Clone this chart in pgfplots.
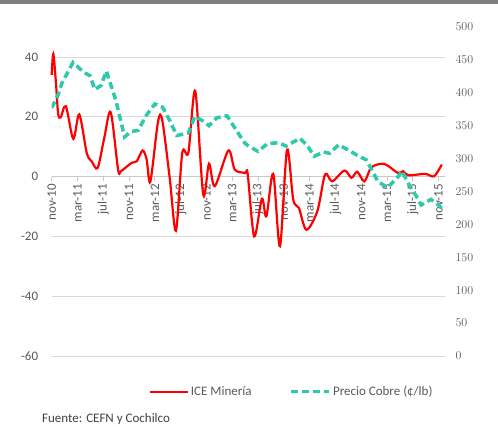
\documentclass[border=0pt]{standalone}
\usepackage{pgfplots}
\pgfplotsset{compat=1.18}
\usepackage{fontspec}
\setmainfont{Carlito}
\definecolor{icered}{RGB}{255,0,0}
\definecolor{cucyan}{RGB}{46,200,170}
\definecolor{lbl}{RGB}{89,89,89}
\definecolor{grd}{RGB}{217,217,217}
\definecolor{axl}{RGB}{200,200,200}
\definecolor{topbar}{RGB}{128,128,128}
\begin{document}
\begin{tikzpicture}[x=1pt,y=1pt]
\useasboundingbox (0,0) rectangle (498,426);
\fill[topbar] (0,422) rectangle (498,426);
\begin{axis}[
  at={(51.7pt,70pt)}, anchor=south west, scale only axis,
  width=393.3pt, height=329pt,
  xmin=0, xmax=61, ymin=-60, ymax=50,
  axis x line=middle, axis y line*=left,
  hide obscured x ticks=false, hide obscured y ticks=false,
  x axis line style={-, draw=axl, line width=0.8pt},
  y axis line style={draw=none},
  xtick={0,4,...,60},
  xticklabels={nov-10,mar-11,jul-11,nov-11,mar-12,jul-12,nov-12,mar-13,jul-13,nov-13,mar-14,jul-14,nov-14,mar-15,jul-15,nov-15},
  xticklabel style={rotate=90, anchor=east, font=\fontsize{13}{15}\selectfont, text=lbl},
  x tick style={draw=axl, line width=0.8pt},
  tick align=outside, major tick length=4pt,
  ytick={-60,-40,-20,0,20,40},
  yticklabels={-60,-40,-20,0,20,40},
  y tick style={draw=none},
  yticklabel style={font=\fontsize{13}{15}\selectfont, text=lbl, xshift=-6pt},
  ymajorgrids, grid style={draw=grd, line width=0.8pt},
  clip=false,
]
\addplot[icered, line width=2.2pt, smooth, tension=0.5] coordinates {
(0,34) (0.25,41) (0.67,31) (1.0,21) (1.4,19.8) (2.2,23.5) (3.35,12.6) (4.28,20.8)
(5.43,7.9) (6.2,5.1) (7.13,2.9) (8.16,13) (9.15,21.5) (10.3,2.3) (10.74,1.8)
(12.4,4.6) (13.18,5.1) (14.1,8.7) (14.73,5.7) (15.3,-1.7) (16.5,18.5) (17.15,18.8)
(18.3,-0.4) (19.27,-18.1) (20.25,7.9) (21.2,8) (22.26,28.6) (23.5,-6) (24.4,4.3)
(25.3,-3.2) (27.4,8.7) (28.4,2.3) (30,1.2) (30.4,0.8) (31.4,-20) (32.6,-7.4) (33.3,-13.3)
(34.36,0.9) (35.4,-23.3) (36.5,9) (37.46,-7.7) (38.34,-10.5) (39.5,-17.8) (41.2,-11.6)
(42.4,0.7) (43.5,-1.6) (45.4,2) (46.5,-0.4) (47.4,1.6) (48.5,-1.6) (49.6,3.1)
(51.6,4.2) (53.7,1.2) (54.5,1.8) (55.3,0.4) (57.9,0.9) (59.3,0.1) (60.5,4)
};
\end{axis}
\begin{axis}[
  at={(51.7pt,70pt)}, anchor=south west, scale only axis,
  width=393.3pt, height=329pt,
  xmin=0, xmax=61, ymin=0, ymax=500,
  axis x line=none, axis y line*=right,
  y axis line style={draw=none},
  ytick={0,50,...,500},
  y tick style={draw=none},
  yticklabel style={font=\fontsize{13}{15}\selectfont, text=lbl, anchor=west, xshift=7pt},
  legend columns=2,
  legend style={at={(0.61,-0.1085)}, anchor=center, draw=none, fill=none,
    font=\fontsize{13}{15}\selectfont, text=lbl, cells={anchor=west},
    /tikz/every even column/.append style={column sep=36pt}},
  legend image code/.code={\draw[#1] (0pt,0pt) -- (38pt,0pt);},
]
\addlegendimage{icered, line width=2.2pt}
\addlegendentry{ICE Minería}
\addplot[cucyan, line width=3.5pt, dash pattern=on 7pt off 4pt] coordinates {
(0,377) (1.0,397) (1.55,414) (3.3,446) (5.0,431) (5.94,426) (6.7,405) (7.64,411)
(8.48,433) (9.97,388) (11.3,333) (12.3,341) (13.4,343) (14.7,366) (16.0,383)
(17.2,378) (18.3,358) (19.4,335) (21.2,339) (22.2,364) (23.5,357) (24.4,350)
(25.6,362) (27.2,365) (28.7,342) (30.0,323) (30.7,318) (32.0,311) (33.5,323)
(35.2,324) (36.4,319) (38.5,331) (39.7,319) (40.7,303.5) (42.2,310) (43.1,308)
(44.5,321) (46.2,312) (47.3,305.5) (48.8,298) (49.9,278) (50.6,265) (52.1,256)
(53.7,272) (54.3,281) (55.4,261) (56.6,242) (57.3,229.5) (58.8,238) (59.9,230.5)
(60.7,222)
};
\addlegendentry{Precio Cobre (¢/lb)}
\end{axis}
\node[anchor=base west, inner sep=0pt, text={rgb,255:red,64;green,64;blue,64}, font=\fontsize{13}{15}\selectfont] at (42,4) {Fuente: CEFN y Cochilco};
\end{tikzpicture}
\end{document}
